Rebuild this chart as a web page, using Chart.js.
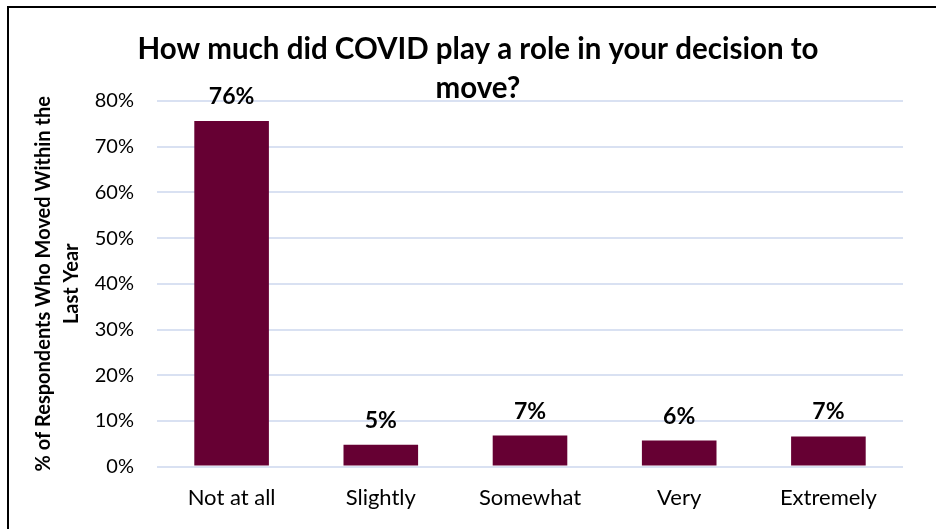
<!DOCTYPE html>
<html lang="en">
<head>
  <meta charset="UTF-8" />
  <title>COVID role in decision to move</title>
  <script src="https://cdn.jsdelivr.net/npm/chart.js"></script>
  <style>
    html, body { margin: 0; padding: 0; background: #fff; }
    body { width: 936px; height: 529px; overflow: hidden; position: relative; }
    #frame {
      position: absolute; left: 7px; top: 6px; width: 940px; height: 540px;
      border: 2px solid #000; box-sizing: border-box;
    }
    #wrap { position: absolute; left: 0; top: 0; width: 936px; height: 529px; }
  </style>
</head>
<body>
  <div id="frame"></div>
  <div id="wrap"><canvas id="chart"></canvas></div>

  <script>
    // data
    const categories = ['Not at all', 'Slightly', 'Somewhat', 'Very', 'Extremely'];
    const shares = [75.6, 4.8, 6.8, 5.7, 6.6];
    const shareLabels = ['76%', '5%', '7%', '6%', '7%'];
    const yTicks = [0, 10, 20, 30, 40, 50, 60, 70, 80];
    const titleLines = ['How much did COVID play a role in your decision to', 'move?'];

    const FONT = "Lato, 'Open Sans', sans-serif";

    // value text above each bar
    const barLabels = {
      id: 'barLabels',
      afterDatasetsDraw(chart) {
        const ctx = chart.ctx;
        const meta = chart.getDatasetMeta(0);
        ctx.save();
        ctx.font = 'bold 23px ' + FONT;
        ctx.fillStyle = '#000';
        ctx.textAlign = 'center';
        ctx.textBaseline = 'alphabetic';
        meta.data.forEach((bar, i) => {
          ctx.fillText(shareLabels[i], bar.x, bar.y - 17);
        });
        ctx.restore();
      }
    };

    // the title sits over the top of the plot, like the original
    const chartTitle = {
      id: 'chartTitle',
      afterDraw(chart) {
        const ctx = chart.ctx;
        ctx.save();
        ctx.font = 'bold 29.5px ' + FONT;
        ctx.fillStyle = '#000';
        ctx.textAlign = 'center';
        ctx.textBaseline = 'middle';
        ctx.fillText(titleLines[0], 478, 49);
        ctx.fillText(titleLines[1], 478, 88);
        ctx.restore();
      }
    };

    new Chart(document.getElementById('chart'), {
      type: 'bar',
      data: {
        labels: categories,
        datasets: [{
          data: shares,
          backgroundColor: '#660033',
          borderColor: '#660033',
          barPercentage: 0.5,
          categoryPercentage: 1
        }]
      },
      options: {
        responsive: true,
        maintainAspectRatio: false,
        animation: false,
        layout: { padding: { left: 30, right: 33, top: 101, bottom: 0 } },
        plugins: {
          legend: { display: false },
          tooltip: { enabled: false },
          title: { display: false }
        },
        scales: {
          x: {
            grid: { display: false, drawTicks: false },
            border: { display: false },
            ticks: { color: '#000', font: { family: FONT, size: 22 }, padding: 18 }
          },
          y: {
            min: 0,
            max: 80,
            afterBuildTicks(axis) { axis.ticks = yTicks.map(v => ({ value: v })); },
            afterFit(axis) { axis.width = 127; },
            grid: { color: '#D9E1F2', lineWidth: 2, drawTicks: false },
            border: { display: false },
            ticks: {
              color: '#000',
              font: { family: FONT, size: 20 },
              padding: 23,
              callback: v => v + '%'
            },
            title: {
              display: true,
              text: ['% of Respondents Who Moved Within the', 'Last Year'],
              color: '#000',
              font: { family: FONT, size: 20, weight: 'bold', lineHeight: 1.4 },
              padding: { top: 0, bottom: 0 }
            }
          }
        }
      },
      plugins: [barLabels, chartTitle]
    });
  </script>
</body>
</html>
